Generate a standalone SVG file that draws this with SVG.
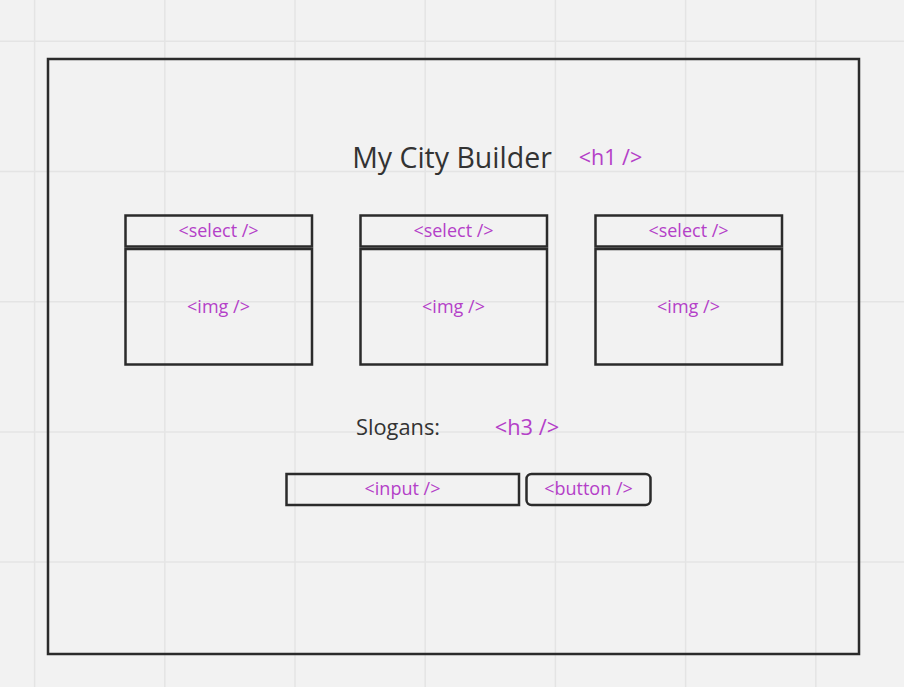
<svg xmlns="http://www.w3.org/2000/svg" width="904" height="687" viewBox="0 0 904 687">
<style>
.grid line{stroke:#e4e4e4;stroke-width:1.5}
.box{fill:none;stroke:#2b2b2b;stroke-width:2.5}
.tag{font-family:"Open Sans","Noto Sans",sans-serif;fill:#b440c8;text-anchor:middle}
.txt{font-family:"Open Sans","Noto Sans",sans-serif;fill:#333333}
</style>
<rect width="904" height="687" fill="#f2f2f2"/>
<g class="grid">
<line x1="34.6" y1="0" x2="34.6" y2="687"/>
<line x1="164.8" y1="0" x2="164.8" y2="687"/>
<line x1="295" y1="0" x2="295" y2="687"/>
<line x1="425.2" y1="0" x2="425.2" y2="687"/>
<line x1="555.4" y1="0" x2="555.4" y2="687"/>
<line x1="685.6" y1="0" x2="685.6" y2="687"/>
<line x1="815.8" y1="0" x2="815.8" y2="687"/>
<line x1="0" y1="41.3" x2="904" y2="41.3"/>
<line x1="0" y1="171.5" x2="904" y2="171.5"/>
<line x1="0" y1="301.7" x2="904" y2="301.7"/>
<line x1="0" y1="431.9" x2="904" y2="431.9"/>
<line x1="0" y1="562.1" x2="904" y2="562.1"/>
</g>
<g id="frame"><rect class="box" x="48" y="59" width="811" height="595"/></g>
<g id="title">
<text class="txt" x="452" y="167.5" font-size="28.5" text-anchor="middle">My City Builder</text>
<text class="tag" x="610.5" y="164.5" font-size="21.5">&lt;h1 /&gt;</text>
</g>
<g id="col1">
<rect class="box" x="125.5" y="215.5" width="186.5" height="31"/>
<rect class="box" x="125.5" y="249" width="186.5" height="115.5"/>
<text class="tag" x="218.5" y="236.5" font-size="18">&lt;select /&gt;</text>
<text class="tag" x="218.5" y="312.5" font-size="18">&lt;img /&gt;</text>
</g>
<g id="col2">
<rect class="box" x="360.5" y="215.5" width="186.5" height="31"/>
<rect class="box" x="360.5" y="249" width="186.5" height="115.5"/>
<text class="tag" x="453.5" y="236.5" font-size="18">&lt;select /&gt;</text>
<text class="tag" x="453.5" y="312.5" font-size="18">&lt;img /&gt;</text>
</g>
<g id="col3">
<rect class="box" x="595.5" y="215.5" width="186.5" height="31"/>
<rect class="box" x="595.5" y="249" width="186.5" height="115.5"/>
<text class="tag" x="688.5" y="236.5" font-size="18">&lt;select /&gt;</text>
<text class="tag" x="688.5" y="312.5" font-size="18">&lt;img /&gt;</text>
</g>
<g id="slogans">
<text class="txt" x="398" y="434.5" font-size="21.8" text-anchor="middle">Slogans:</text>
<text class="tag" x="527" y="434.5" font-size="21.8">&lt;h3 /&gt;</text>
</g>
<g id="input">
<rect class="box" x="286.5" y="474" width="232.5" height="31"/>
<text class="tag" x="402.5" y="494.5" font-size="18">&lt;input /&gt;</text>
</g>
<g id="button">
<rect class="box" x="526.5" y="474" width="124" height="31" rx="5"/>
<text class="tag" x="588.5" y="494.5" font-size="18">&lt;button /&gt;</text>
</g>
<g id="connectors"></g>
</svg>
